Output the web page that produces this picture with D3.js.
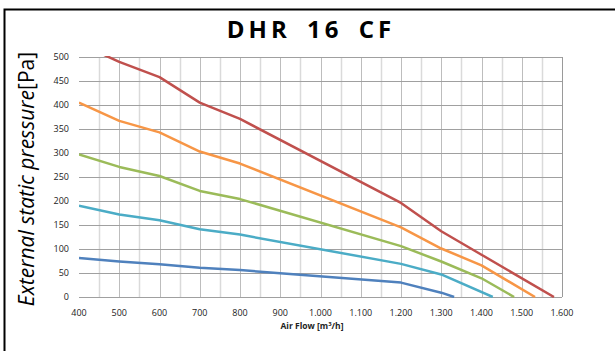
<!DOCTYPE html>
<html>
<head>
<meta charset="utf-8">
<script src="https://cdn.jsdelivr.net/npm/d3@7"></script>
<style>
  body { margin: 0; background: #fff; }
  svg { display: block; font-family: "Open Sans", sans-serif; }
</style>
</head>
<body>
<script>
// curves: [air flow, pressure]
const redCurve = [[400, 528], [500, 490], [600, 458], [700, 405], [800, 371], [1200, 196], [1300, 137], [1400, 88], [1580, 0]]
const orangeCurve = [[400, 405], [500, 367], [600, 343], [700, 303], [800, 278], [1200, 145], [1300, 101], [1400, 66], [1533, 0]]
const greenCurve = [[400, 297], [500, 271], [600, 252], [700, 221], [800, 204], [1200, 106], [1300, 74], [1400, 39], [1481, 0]]
const cyanCurve = [[400, 190], [500, 172], [600, 160], [700, 141], [800, 130], [1200, 69], [1300, 47], [1428, 0]]
const blueCurve = [[400, 81], [500, 74], [600, 68], [700, 61], [800, 56], [1200, 30], [1300, 9], [1332, 0]]

const curves = [blueCurve, cyanCurve, greenCurve, orangeCurve, redCurve]
const colors = ["#4F81BD", "#4BACC6", "#9BBB59", "#F79646", "#C0504D"]

const xTicks = [400, 500, 600, 700, 800, 900, 1000, 1100, 1200, 1300, 1400, 1500, 1600]
const yTicks = [0, 50, 100, 150, 200, 250, 300, 350, 400, 450, 500]
const xMinor = d3.range(450, 1600, 100)

const W = 615, H = 351
const plot = { left: 79, right: 562, top: 57, bottom: 297 }

const x = d3.scaleLinear().domain([400, 1600]).range([plot.left, plot.right])
const y = d3.scaleLinear().domain([0, 500]).range([plot.bottom, plot.top])

const locale = d3.formatLocale({ decimal: ",", thousands: ".", grouping: [3], currency: ["", "€"] })
const fmt = locale.format(",")

const svg = d3.select("body").append("svg")
    .attr("width", W)
    .attr("height", H)

// outer frame
svg.append("rect")
    .attr("x", 4.5)
    .attr("y", 9.5)
    .attr("width", 700)
    .attr("height", 400)
    .attr("fill", "none")
    .attr("stroke", "#000")
    .attr("stroke-width", 2)

svg.append("text")
    .attr("x", 311)
    .attr("y", 38)
    .attr("text-anchor", "middle")
    .attr("font-size", 24)
    .attr("font-weight", 700)
    .attr("letter-spacing", "4px")
    .style("word-spacing", "6px")
    .text("DHR 16 CF")

const grid = svg.append("g")

grid.selectAll("line.minor")
    .data(xMinor)
    .enter()
    .append("line")
    .attr("class", "minor")
    .attr("x1", d => Math.round(x(d)) + 0.5)
    .attr("x2", d => Math.round(x(d)) + 0.5)
    .attr("y1", plot.top)
    .attr("y2", plot.bottom)
    .attr("stroke", "#dadada")
    .attr("stroke-width", 1.5)

grid.selectAll("line.vmajor")
    .data(xTicks.slice(1))
    .enter()
    .append("line")
    .attr("class", "vmajor")
    .attr("x1", d => Math.round(x(d)) + 0.5)
    .attr("x2", d => Math.round(x(d)) + 0.5)
    .attr("y1", plot.top)
    .attr("y2", plot.bottom)
    .attr("stroke", d => d === 1600 ? "#9a9a9a" : "#bdbdbd")

grid.selectAll("line.h")
    .data(yTicks)
    .enter()
    .append("line")
    .attr("class", "h")
    .attr("x1", plot.left)
    .attr("x2", plot.right)
    .attr("y1", d => Math.round(y(d)) + 0.5)
    .attr("y2", d => Math.round(y(d)) + 0.5)
    .attr("stroke", "#a0a0a0")

// y labels
svg.append("g")
    .attr("font-size", 9)
    .attr("fill", "#222")
    .selectAll("text")
    .data(yTicks)
    .enter()
    .append("text")
    .attr("x", 69)
    .attr("y", d => y(d) + 3)
    .attr("text-anchor", "end")
    .text(d => d)

// x labels
svg.append("g")
    .attr("font-size", 9)
    .attr("fill", "#222")
    .selectAll("text")
    .data(xTicks)
    .enter()
    .append("text")
    .attr("x", d => x(d))
    .attr("y", 316)
    .attr("text-anchor", "middle")
    .text(d => fmt(d))

svg.append("text")
    .attr("x", 312)
    .attr("y", 329)
    .attr("text-anchor", "middle")
    .attr("font-size", 8.5)
    .attr("font-weight", 700)
    .attr("fill", "#222")
    .html("Air Flow [m<tspan font-size='6' dy='-3'>3</tspan><tspan dy='3'>/h]</tspan>")

// y title
const yt = svg.append("text")
    .attr("transform", "translate(34 179) rotate(-90)")
    .attr("text-anchor", "middle")
    .attr("font-size", 21)
    .attr("fill", "#000")
yt.append("tspan").attr("font-style", "italic").text("External static pressure")
yt.append("tspan").text("[Pa]")

svg.append("clipPath")
    .attr("id", "clip")
    .append("rect")
    .attr("x", plot.left)
    .attr("y", plot.top - 1)
    .attr("width", plot.right - plot.left)
    .attr("height", plot.bottom - plot.top + 2)

const line = d3.line()
    .x(d => x(d[0]))
    .y(d => y(d[1]))

svg.append("g")
    .attr("clip-path", "url(#clip)")
    .selectAll("path")
    .data(curves)
    .enter()
    .append("path")
    .attr("d", line)
    .attr("fill", "none")
    .attr("stroke", (d, i) => colors[i])
    .attr("stroke-width", 2.5)
    .attr("stroke-linejoin", "round")
</script>
</body>
</html>
